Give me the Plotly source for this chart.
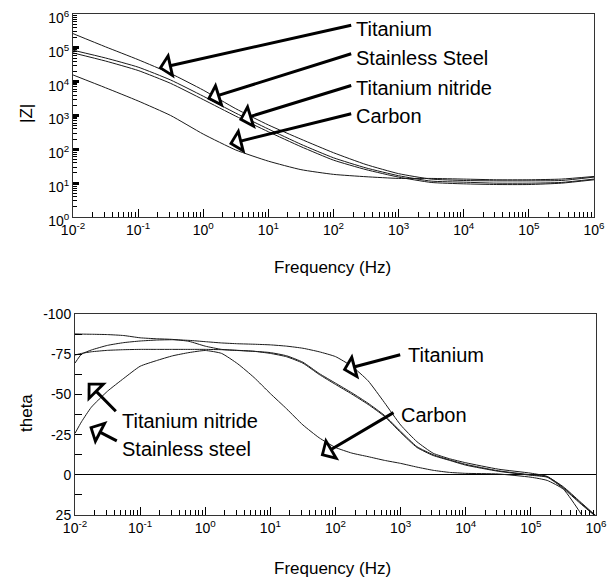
import math
import plotly.graph_objects as go

# page body has an 8px margin, so the figure is drawn 8px in from the window corner
OFF = 8
W, H = 615 - OFF, 579 - OFF

# ---------------- |Z| panel data ----------------
freq_z = [0.01, 0.0316, 0.1, 0.316, 1, 3.16, 10, 31.6, 100, 316, 1000,
          3160, 1e4, 3.16e4, 1e5, 3.16e5, 1e6]
z_titanium = [263000, 107000, 44700, 17400, 5620, 1585, 525, 200, 79.4, 35.5,
              19.1, 13.2, 12.0, 11.7, 11.7, 12.0, 15.1]
z_stainless = [85100, 50100, 26900, 11200, 3720, 1175, 398, 141, 56.2, 28.2,
               16.6, 11.5, 10.7, 10.0, 10.0, 10.5, 13.2]
z_tin = [70800, 40700, 21400, 8900, 2950, 955, 331, 120, 47.9, 25.1,
         15.1, 10.5, 9.55, 9.12, 9.12, 10.0, 12.6]
z_carbon = [15800, 6610, 2690, 1000, 282, 95.5, 44.7, 25.1, 18.2, 15.5,
            13.8, 13.8, 13.2, 12.6, 12.6, 13.2, 15.8]

# ---------------- theta panel data ----------------
freq_t = [0.01, 0.0126, 0.0178, 0.0316, 0.0562, 0.1, 0.178, 0.316, 0.562, 1,
          1.78, 3.16, 5.62, 10, 17.8, 31.6, 56.2, 100, 178, 316, 562, 1000,
          1780, 3160, 5620, 1e4, 3.16e4, 1e5, 1.78e5, 3.16e5, 5.62e5, 1e6]
th_titanium = [-69.5, -75.0, -77.6, -80.5, -82.2, -83.2, -83.8, -84.0, -83.6, -82.8,
               -82.0, -81.5, -81.2, -80.8, -80.0, -78.7, -76.5, -73.5, -67.5, -58.5,
               -45.0, -31.0, -20.6, -13.4, -10.0, -7.5, -3.5, -1.0, 1.0, 8.0, 17.0, 26.0]
th_tin = [-87.6, -87.5, -87.4, -87.2, -86.6, -85.2, -84.6, -84.2, -83.0, -80.0,
          -78.0, -77.3, -76.8, -76.0, -74.0, -70.0, -63.0, -57.0, -51.0, -44.5,
          -37.0, -27.0, -17.5, -12.5, -9.3, -6.5, -2.5, 0.0, 1.2, 7.5, 16.5, 25.5]
th_stainless = [-74.5, -75.5, -76.5, -77.4, -77.8, -78.0, -78.0, -78.0, -78.0, -78.0,
                -77.8, -77.4, -76.8, -75.5, -73.4, -69.4, -62.4, -56.2, -50.2, -43.8,
                -36.4, -26.3, -17.0, -12.0, -9.0, -6.0, -2.2, 0.3, 1.5, 8.5, 17.5, 26.0]
th_carbon = [-25.8, -33.0, -42.0, -52.0, -60.0, -67.5, -71.0, -74.0, -76.0, -77.3,
             -75.5, -69.0, -60.5, -50.5, -41.0, -31.0, -23.0, -17.0, -13.5, -11.3,
             -9.0, -7.1, -4.8, -2.8, -1.5, -0.9, -0.5, 1.5, 3.5, 9.0, 23.0, 40.0]

# ---------------- tick labels ----------------
x_tickvals = [1e-2, 1e-1, 1, 1e1, 1e2, 1e3, 1e4, 1e5, 1e6]
x_ticktext = ["10<sup>-2</sup>", "10<sup>-1</sup>", "10<sup>0</sup>", "10<sup>1</sup>",
              "10<sup>2</sup>", "10<sup>3</sup>", "10<sup>4</sup>", "10<sup>5</sup>",
              "10<sup>6</sup>"]
z_tickvals = [1, 1e1, 1e2, 1e3, 1e4, 1e5, 1e6]
z_ticktext = ["10<sup>0</sup>", "10<sup>1</sup>", "10<sup>2</sup>", "10<sup>3</sup>",
              "10<sup>4</sup>", "10<sup>5</sup>", "10<sup>6</sup>"]
th_tickvals = [-100, -75, -50, -25, 0, 25]
th_ticktext = ["-100", "-75", "-50", "-25", "0", "25"]

LINE = dict(color="#1a1a1a", width=1, shape="spline", smoothing=0.5)
FONT = "Liberation Sans, Arial, sans-serif"

fig = go.Figure()
for z in (z_titanium, z_stainless, z_tin, z_carbon):
    fig.add_trace(go.Scatter(x=freq_z, y=z, mode="lines", line=LINE,
                             xaxis="x", yaxis="y", showlegend=False, hoverinfo="skip"))
for th in (th_titanium, th_tin, th_stainless, th_carbon):
    fig.add_trace(go.Scatter(x=freq_t, y=th, mode="lines", line=LINE,
                             xaxis="x2", yaxis="y2", showlegend=False, hoverinfo="skip"))

minor_log_x = [k * 10 ** e for e in range(-2, 6) for k in range(2, 10)]
minor_log_y = [k * 10 ** e for e in range(0, 6) for k in range(2, 10)]


def px(x):
    return (x - OFF) / W


def py(y):
    return 1 - (y - OFF) / H


common_x = dict(type="log", range=[-2, 6], tickmode="array", tickvals=x_tickvals,
                ticktext=x_ticktext, ticks="inside", ticklen=8, tickwidth=1,
                tickcolor="black", showline=True, linecolor="#333", linewidth=1,
                mirror=True, showgrid=False, zeroline=False, automargin=False,
                ticklabeloverflow="allow",
                tickfont=dict(size=14, color="black", family=FONT),
                minor=dict(tickmode="array", tickvals=minor_log_x, ticks="inside",
                           ticklen=5, tickwidth=1, tickcolor="black", showgrid=False))

fig.update_layout(
    width=W, height=H, template="none",
    paper_bgcolor="white", plot_bgcolor="white",
    margin=dict(l=0, r=0, t=0, b=0),
    font=dict(family=FONT, color="black"),
    xaxis=dict(domain=[px(73), px(594)], anchor="y", **common_x),
    yaxis=dict(domain=[py(217), py(14)], anchor="x", type="log", range=[0, 6],
               tickmode="array", tickvals=z_tickvals, ticktext=z_ticktext,
               ticks="inside", ticklen=6, tickwidth=3, tickcolor="black",
               showline=True, linecolor="#333", linewidth=1, mirror=True,
               showgrid=False, zeroline=False, automargin=False,
               ticklabeloverflow="allow", ticklabelshift=4,
               tickfont=dict(size=14, color="black", family=FONT),
               minor=dict(tickmode="array", tickvals=minor_log_y, ticks="inside",
                          ticklen=4, tickwidth=1, tickcolor="black", showgrid=False)),
    xaxis2=dict(domain=[px(75), px(596)], anchor="y2", **common_x),
    yaxis2=dict(domain=[py(515), py(314)], anchor="x2", range=[25, -100],
                tickmode="array", tickvals=th_tickvals, ticktext=th_ticktext,
                ticks="inside", ticklen=7, tickwidth=1, tickcolor="black",
                showline=True, linecolor="#333", linewidth=1, mirror=True,
                showgrid=False, zeroline=True, zerolinecolor="black", zerolinewidth=1,
                automargin=False, ticklabeloverflow="allow",
                tickfont=dict(size=14, color="black", family=FONT),
                minor=dict(dtick=12.5, ticks="inside", ticklen=7, tickwidth=1,
                           tickcolor="black", showgrid=False)),
)

ann = []
# axis titles
for txt, x, y, rot in [("|Z|", 26, 114, -90), ("theta", 26, 413, -90),
                       ("Frequency (Hz)", 333, 268, 0), ("Frequency (Hz)", 333, 568, 0)]:
    ann.append(dict(text=txt, x=px(x), y=py(y), xref="paper", yref="paper",
                    showarrow=False, textangle=rot, xanchor="center", yanchor="middle",
                    font=dict(size=17, family=FONT, color="black")))

# labels
labels = [("Titanium", 354, 29), ("Stainless Steel", 354, 57.5),
          ("Titanium nitride", 354, 87.5), ("Carbon", 354, 116),
          ("Titanium", 406, 355), ("Carbon", 399, 415),
          ("Titanium nitride", 120, 420.5), ("Stainless steel", 120, 449)]
for txt, x, y in labels:
    ann.append(dict(text=txt, x=px(x), y=py(y), xref="paper", yref="paper",
                    showarrow=False, xanchor="left", yanchor="middle",
                    font=dict(size=20, family=FONT, color="black")))

# arrows: (tail_x, tail_y, tip_x, tip_y) in window pixels
arrows = [(352.7, 25, 158.5, 68.3), (352.7, 53.3, 207, 99), (352.7, 85, 239, 120),
          (352.7, 113.3, 229, 144),
          (401.7, 354.3, 342.7, 370), (395, 411.7, 320.7, 455.7),
          (117.3, 412.7, 87.7, 382.7), (118.3, 441.7, 89.3, 426.7)]
for tx, ty, hx, hy in arrows:
    ann.append(dict(text="", x=px(hx), y=py(hy), xref="paper", yref="paper",
                    showarrow=True, ax=tx - hx, ay=ty - hy, axref="pixel", ayref="pixel",
                    arrowhead=1, arrowsize=1.5, arrowwidth=3, arrowcolor="black",
                    standoff=0, startstandoff=0))
    # white inset head so the arrowhead reads as an outlined triangle
    d = math.hypot(tx - hx, ty - hy)
    ux, uy = (tx - hx) / d, (ty - hy) / d
    ann.append(dict(text="", x=px(hx), y=py(hy), xref="paper", yref="paper",
                    showarrow=True, ax=ux * 9, ay=uy * 9, axref="pixel", ayref="pixel",
                    arrowhead=1, arrowsize=2.2, arrowwidth=1, arrowcolor="white",
                    standoff=4, startstandoff=0))

fig.update_layout(annotations=ann)
fig.write_html("out.html")
